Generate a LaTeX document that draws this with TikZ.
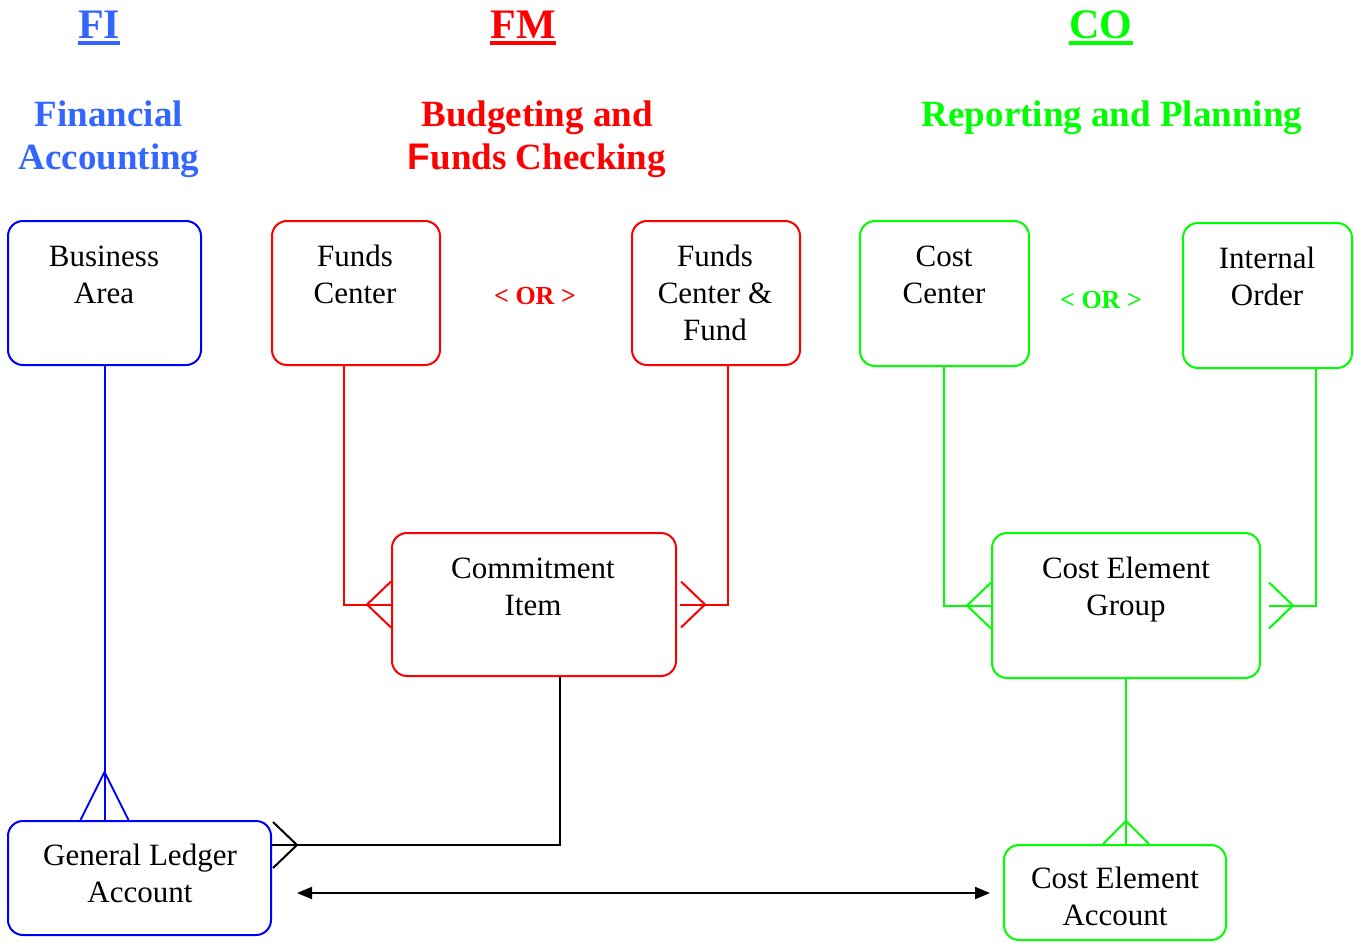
\documentclass[tikz,border=0pt]{standalone}
\usepackage{fontspec}
\setmainfont{Liberation Serif}
\newfontfamily\hsans{Liberation Sans}
\usetikzlibrary{arrows.meta}
\definecolor{fiblue}{HTML}{3366FF}
\definecolor{bx}{HTML}{0000FF}
\definecolor{rd}{HTML}{FF0000}
\definecolor{gr}{HTML}{00FF00}
\begin{document}
\begin{tikzpicture}[x=1pt,y=-1pt,
  box/.style={draw=#1, line width=2pt, rounded corners=15pt, inner sep=0pt},
  lbl/.style={font=\fontsize{31}{37}\selectfont, align=center, inner sep=0pt},
  head/.style={font=\fontsize{42}{50}\selectfont\bfseries, inner sep=0pt, anchor=base},
  sub/.style={font=\fontsize{37}{43}\selectfont\bfseries, align=center, inner sep=0pt},
  ortxt/.style={font=\fontsize{26}{30}\selectfont\bfseries, inner sep=0pt},
  conn/.style={draw=#1, line width=2pt},
  uline/.style={draw=#1, line width=4pt}]
\useasboundingbox (0,0) rectangle (1354,942);

% headings
\node[head, text=fiblue] (fi) at (99,39) {FI};
\node[head, text=rd] (fm) at (523,39) {FM};
\node[head, text=gr] (co) at (1101,39) {CO};
\draw[uline=fiblue] ([yshift=-4pt]fi.base west) -- ([yshift=-4pt]fi.base east);
\draw[uline=rd] ([yshift=-4pt]fm.base west) -- ([yshift=-4pt]fm.base east);
\draw[uline=gr] ([yshift=-4pt]co.base west) -- ([yshift=-4pt]co.base east);

\node[sub, text=fiblue] (fa) at (109,139) {Financial\\Accounting};
\node[sub, text=rd] (bf) at (537,139) {Budgeting and\\{\hsans F}unds Checking};
\node[sub, text=gr, anchor=base] (rp) at (1112,126) {Reporting and Planning};

\node[ortxt, text=rd] (or1) at (535,296) {< OR >};
\node[ortxt, text=gr] (or2) at (1101,300) {< OR >};

% boxes
\node[box=bx, minimum width=193pt, minimum height=144pt] (ba) at (104.5,293) {};
\node[box=rd, minimum width=168pt, minimum height=144pt] (fc) at (356,293) {};
\node[box=rd, minimum width=168pt, minimum height=144pt] (fcf) at (716,293) {};
\node[box=gr, minimum width=169pt, minimum height=145pt] (cc) at (944.5,293.5) {};
\node[box=gr, minimum width=169pt, minimum height=145pt] (io) at (1267.5,295.5) {};
\node[box=rd, minimum width=284pt, minimum height=143pt] (ci) at (534,604.5) {};
\node[box=gr, minimum width=268pt, minimum height=145pt] (ceg) at (1126,605.5) {};
\node[box=bx, minimum width=263pt, minimum height=114pt] (gl) at (139.5,878) {};
\node[box=gr, minimum width=222pt, minimum height=95pt] (cea) at (1115,892.5) {};

% box texts
\node[lbl] (tba) at (104,275) {Business\\Area};
\node[lbl] (tfc) at (355,274) {Funds\\Center};
\node[lbl] (tfcf) at (715,293) {Funds\\Center \&\\Fund};
\node[lbl] (tcc) at (944,275) {Cost\\Center};
\node[lbl] (tio) at (1267,276) {Internal\\Order};
\node[lbl] (tci) at (533,587) {Commitment\\Item};
\node[lbl] (tceg) at (1126,590) {Cost Element\\Group};
\node[lbl] (tgl) at (140,873) {General Ledger\\Account};
\node[lbl] (tcea) at (1115,896) {Cost Element\\Account};

% Business Area -> GL
\draw[conn=bx] (ba.south) -- (ba.south |- gl.north);
\draw[conn=bx] ([xshift=-24pt]ba.south |- gl.north) -- ([yshift=48pt]ba.south |- gl.north) -- ([xshift=24pt]ba.south |- gl.north);

% Funds Center -> Commitment Item
\draw[conn=rd] ([xshift=-12pt]fc.south) |- (ci.west);
\draw[conn=rd] ([yshift=23pt]ci.west) -- ([xshift=-24pt]ci.west) -- ([yshift=-23pt]ci.west);

% Funds Center & Fund -> Commitment Item
\draw[conn=rd] ([xshift=12pt]fcf.south) |- ([xshift=3pt]ci.east);
\draw[conn=rd] ([xshift=4pt,yshift=23pt]ci.east) -- ([xshift=28pt]ci.east) -- ([xshift=4pt,yshift=-23pt]ci.east);

% Commitment Item -> GL
\draw[conn=black] ([xshift=26pt]ci.south) |- ([yshift=33pt]gl.east);
\draw[conn=black] ([xshift=1pt,yshift=56pt]gl.east) -- ([xshift=25pt,yshift=33pt]gl.east) -- ([xshift=1pt,yshift=10pt]gl.east);

% Cost Center -> CEG
\draw[conn=gr] ([xshift=-0.5pt]cc.south) |- (ceg.west);
\draw[conn=gr] ([yshift=23pt]ceg.west) -- ([xshift=-24pt]ceg.west) -- ([yshift=-23pt]ceg.west);

% Internal Order -> CEG
\draw[conn=gr] ([xshift=48.5pt]io.south) |- ([xshift=8pt]ceg.east);
\draw[conn=gr] ([xshift=8pt,yshift=23pt]ceg.east) -- ([xshift=32pt]ceg.east) -- ([xshift=8pt,yshift=-23pt]ceg.east);

% CEG -> CEA
\draw[conn=gr] (ceg.south) -- (ceg.south |- cea.north);
\draw[conn=gr] ([xshift=-23pt]ceg.south |- cea.north) -- ([yshift=23pt]ceg.south |- cea.north) -- ([xshift=23pt]ceg.south |- cea.north);

% double arrow GL <-> CEA
\coordinate (a1) at ([xshift=25pt,yshift=-15pt]gl.east);
\path (cea.west |- a1) ++(-13,0) coordinate (a2);
\draw[line width=2pt, {Triangle[length=15pt,width=12pt]}-{Triangle[length=15pt,width=12pt]}] (a1) -- (a2);
\end{tikzpicture}
\end{document}
